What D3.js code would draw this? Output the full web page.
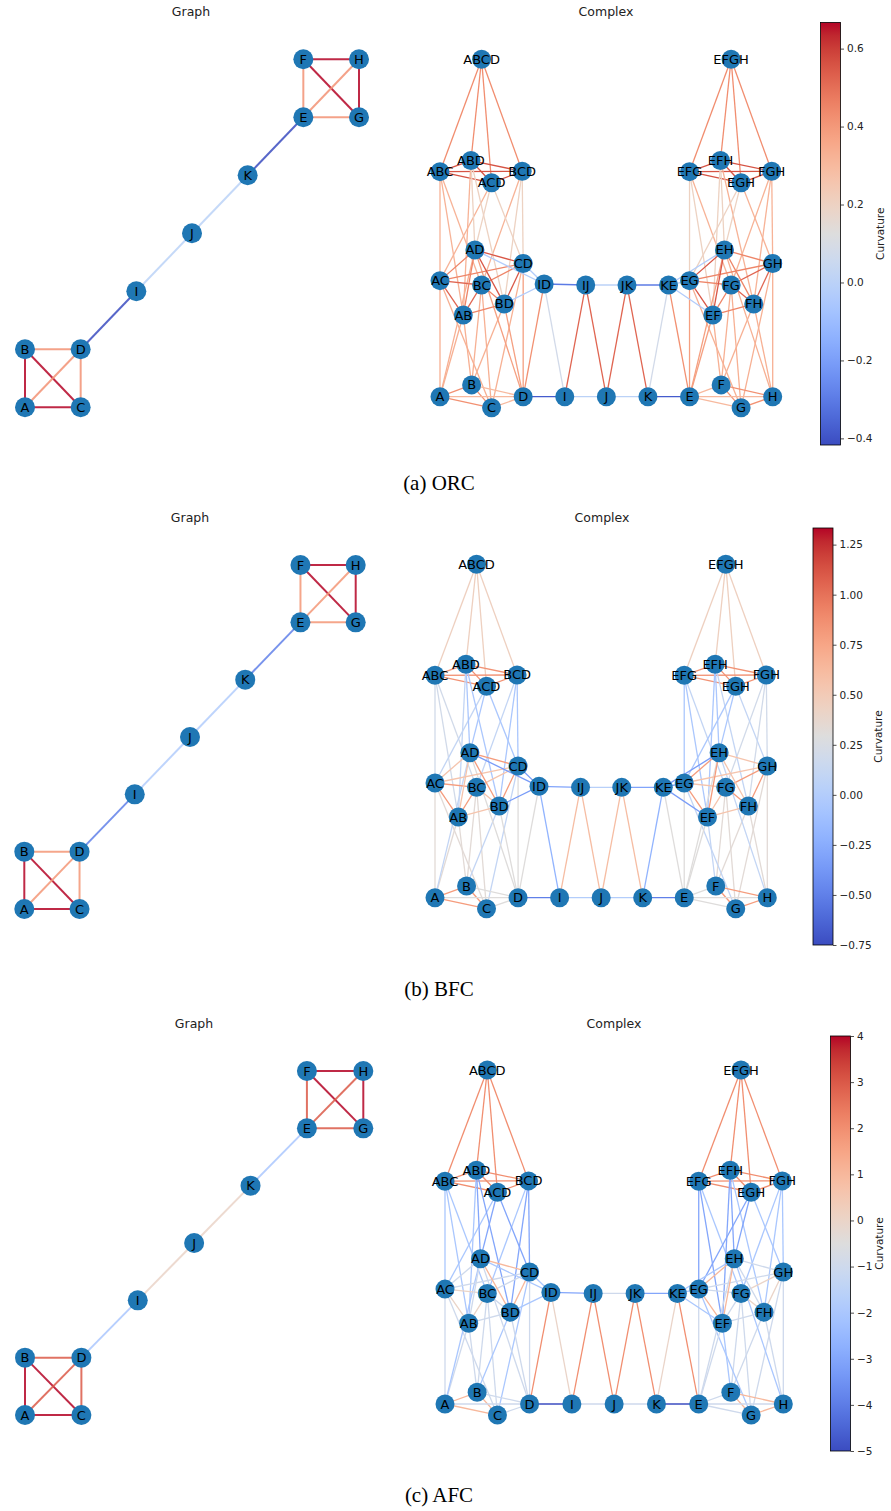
<!DOCTYPE html>
<html>
<head>
<meta charset="utf-8">
<script src="https://cdn.jsdelivr.net/npm/d3@7"></script>
<style>
  body { margin: 0; background: #fff; }
  svg { display: block; font-family: "DejaVu Sans", sans-serif; }
</style>
</head>
<body>
<svg id="fig" width="891" height="1511"></svg>
<script>
// ---------- data ----------
const captions = ["(a) ORC", "(b) BFC", "(c) AFC"];

// graph: nodes and layout (grid units)
const graphNodes = ["A", "B", "C", "D", "I", "J", "K", "E", "F", "G", "H"];
const graphPosX = [0, 0, 1, 1, 2, 3, 4, 5, 5, 6, 6];
const graphPosY = [0, 1, 0, 1, 2, 3, 4, 5, 6, 5, 6];

// graph edges, grouped by structural class
const graphGroups = [
  ["A-B", "A-C", "B-C", "F-G", "F-H", "G-H"],   // inside a clique
  ["A-D", "B-D", "C-D", "E-F", "E-G", "E-H"],   // clique edges at the hub
  ["D-I", "K-E"],                               // bridges
  ["I-J", "J-K"]                                // path
];
const orcGraph = [0.667, 0.417, -0.417, 0.0];
const bfcGraph = [1.333, 0.833, -0.5, 0.0];
const afcGraph = [4, 3, -2, 0];

// complex: cells and layout (layout units)
const complexNodes = ["A", "B", "C", "D", "I", "J", "K", "E", "F", "G", "H",
  "AB", "AC", "AD", "BC", "BD", "CD", "ID", "IJ", "JK", "KE", "EF", "EG", "EH", "FG", "FH", "GH",
  "ABC", "ABD", "ACD", "BCD", "EFG", "EFH", "EGH", "FGH", "ABCD", "EFGH"];
const complexPosX = [0, 9.5, 15.5, 25, 37.5, 50, 62.5, 75, 84.5, 90.5, 100,
  7, 0, 10.5, 12.5, 19.3, 25, 31.3, 43.8, 56.2, 68.7, 82, 75, 85.5, 87.5, 94.3, 100,
  0, 9.3, 15.5, 24.7, 75, 84.3, 90.5, 99.7, 12.5, 87.5];
const complexPosY = [0, 3.5, -3.3, 0, 0, 0, 0, 0, 3.5, -3.3, 0,
  24.2, 34.4, 43.5, 33.1, 27.5, 39.5, 33.4, 33.1, 33.1, 33.1, 24.2, 34.4, 43.5, 33.1, 27.5, 39.5,
  66.7, 70, 63.4, 66.8, 66.7, 70, 63.4, 66.8, 100, 100];

// complex edges, grouped by structural class
const complexGroups = [
  ["ABCD-ABC", "EFGH-FGH"],
  ["ABCD-ABD", "ABCD-ACD", "ABCD-BCD", "EFGH-EFG", "EFGH-EFH", "EFGH-EGH"],
  ["ABC-ABD", "ABC-ACD", "ABC-BCD", "FGH-EFG", "FGH-EFH", "FGH-EGH"],
  ["ABD-ACD", "ABD-BCD", "ACD-BCD", "EFG-EFH", "EFG-EGH", "EFH-EGH"],
  ["ABC-AB", "ABC-AC", "ABC-BC", "FGH-FG", "FGH-FH", "FGH-GH"],
  ["ABD-AB", "ACD-AC", "BCD-BC", "EFG-FG", "EFH-FH", "EGH-GH"],
  ["ABD-AD", "ABD-BD", "ACD-AD", "ACD-CD", "BCD-BD", "BCD-CD",
   "EFG-EF", "EFG-EG", "EFH-EF", "EFH-EH", "EGH-EG", "EGH-EH"],
  ["AB-A", "AB-B", "AC-A", "AC-C", "BC-B", "BC-C", "FG-F", "FG-G", "FH-F", "FH-H", "GH-G", "GH-H"],
  ["AD-A", "BD-B", "CD-C", "EF-F", "EG-G", "EH-H"],
  ["AD-D", "BD-D", "CD-D", "EF-E", "EG-E", "EH-E"],
  ["ID-D", "KE-E"],
  ["ID-I", "KE-K"],
  ["IJ-I", "IJ-J", "JK-J", "JK-K"],
  ["AB-AC", "AB-BC", "AC-BC", "FG-FH", "FG-GH", "FH-GH"],
  ["AB-AD", "AB-BD", "AC-AD", "AC-CD", "BC-BD", "BC-CD",
   "FG-EF", "FG-EG", "FH-EF", "FH-EH", "GH-EG", "GH-EH"],
  ["AD-BD", "AD-CD", "BD-CD", "EF-EG", "EF-EH", "EG-EH"],
  ["AD-ID", "BD-ID", "CD-ID", "EF-KE", "EG-KE", "EH-KE"],
  ["ID-IJ", "JK-KE"],
  ["IJ-JK"],
  ["A-B", "A-C", "B-C", "F-G", "F-H", "G-H"],
  ["A-D", "B-D", "C-D", "E-F", "E-G", "E-H"],
  ["D-I", "K-E"],
  ["I-J", "J-K"]
];
const orcComplex = [0.43, 0.43, 0.56, 0.56, 0.32, 0.32, 0.2, 0.33, 0.33, 0.38, 0.42, 0.08,
  0.52, 0.52, 0.45, 0.55, -0.03, -0.3, 0.0, 0.42, 0.3, -0.38, 0.0];
const bfcComplex = [0.45, 0.45, 0.85, 0.85, 0.2, 0.1, -0.05, 0.33, 0.1, 0.3, 0.3, -0.2,
  0.6, 0.8, 0.55, 0.8, -0.35, -0.3, 0.03, 0.8, 0.3, -0.5, 0.0];
const afcComplex = [2, 2, 2, 2, -2, -2, -3, -1, -2, -1, 2, 0,
  2, 0, -1, 1, -2, -3, -1, 1, -1, -5, -1];

const cbarDomains = [[-0.417, 0.667], [-0.75, 1.333], [-5, 4]];
const cbarTicks = [
  [-0.4, -0.2, 0, 0.2, 0.4, 0.6],
  [-0.75, -0.5, -0.25, 0, 0.25, 0.5, 0.75, 1, 1.25],
  [-5, -4, -3, -2, -1, 0, 1, 2, 3, 4]
];
const cbarFormats = [".1f", ".2f", "d"];

const graphValues = [orcGraph, bfcGraph, afcGraph];
const complexValues = [orcComplex, bfcComplex, afcComplex];

// ---------- layout (pixels) ----------
// cbTop / cbBottom: colorbar extent
const frames = [
  { gx: [25, 359], gy: [407.3, 59.3], cx: [440, 772.7], cy: [396.7, 59.3],
    titleY: 16, gTitleX: 191, cTitleX: 606, capY: 490, cbX: 820.5, cbTop: 22.5, cbBottom: 445, cbLab: 43 },
  { gx: [24.3, 355.7], gy: [909, 565], cx: [435, 767.3], cy: [897.7, 564.3],
    titleY: 522, gTitleX: 190, cTitleX: 602, capY: 996, cbX: 813, cbTop: 528, cbBottom: 945, cbLab: 49 },
  { gx: [25, 363.3], gy: [1415, 1071], cx: [445, 783.3], cy: [1404, 1070],
    titleY: 1028, gTitleX: 194, cTitleX: 614, capY: 1502, cbX: 830.5, cbTop: 1036, cbBottom: 1451, cbLab: 32 }
];

// matplotlib coolwarm
const coolwarm = d3.piecewise(d3.interpolateRgb, [
  "rgb(59,76,192)", "rgb(68,90,204)", "rgb(77,104,215)", "rgb(87,117,225)", "rgb(98,130,234)",
  "rgb(108,142,241)", "rgb(119,154,247)", "rgb(130,165,251)", "rgb(141,176,254)", "rgb(152,185,255)",
  "rgb(163,194,255)", "rgb(174,201,253)", "rgb(184,208,249)", "rgb(194,213,244)", "rgb(204,217,238)",
  "rgb(213,219,230)", "rgb(221,221,221)", "rgb(229,216,209)", "rgb(236,211,197)", "rgb(241,204,185)",
  "rgb(245,196,173)", "rgb(247,187,160)", "rgb(247,177,148)", "rgb(247,166,135)", "rgb(244,154,123)",
  "rgb(241,141,111)", "rgb(236,127,99)", "rgb(229,112,88)", "rgb(222,96,77)", "rgb(213,80,66)",
  "rgb(203,62,56)", "rgb(192,40,47)", "rgb(180,4,38)"
]);

const svg = d3.select("#fig");
svg.append("rect").attr("width", 891).attr("height", 1511).attr("fill", "#fff");
const defs = svg.append("defs");

function flatten(groups, values) {
  const out = [];
  groups.forEach((g, i) => g.forEach(e => {
    const [s, t] = e.split("-");
    out.push({ s, t, v: values[i] });
  }));
  return out;
}

frames.forEach((f, p) => {
  const [vmin, vmax] = cbarDomains[p];
  const norm = d3.scaleLinear().domain([vmin, vmax]).range([0, 1]).clamp(true);
  const color = v => coolwarm(norm(v));

  // ----- graph panel -----
  const gxs = d3.scaleLinear().domain([0, 6]).range(f.gx);
  const gys = d3.scaleLinear().domain([0, 6]).range(f.gy);
  const gpos = {};
  graphNodes.forEach((n, i) => gpos[n] = [gxs(graphPosX[i]), gys(graphPosY[i])]);

  const gG = svg.append("g").attr("class", "graph");
  gG.selectAll("line")
    .data(flatten(graphGroups, graphValues[p]))
    .join("line")
    .attr("x1", d => gpos[d.s][0]).attr("y1", d => gpos[d.s][1])
    .attr("x2", d => gpos[d.t][0]).attr("y2", d => gpos[d.t][1])
    .attr("stroke", d => color(d.v))
    .attr("stroke-width", 2)
    .attr("stroke-opacity", 0.85);
  gG.selectAll("circle")
    .data(graphNodes)
    .join("circle")
    .attr("cx", d => gpos[d][0]).attr("cy", d => gpos[d][1])
    .attr("r", 10).attr("fill", "#1f77b4");
  gG.selectAll("text")
    .data(graphNodes)
    .join("text")
    .attr("x", d => gpos[d][0]).attr("y", d => gpos[d][1])
    .attr("text-anchor", "middle").attr("dominant-baseline", "central")
    .attr("font-size", 13).attr("fill", "#000")
    .text(d => d);

  // ----- complex panel -----
  const cxs = d3.scaleLinear().domain([0, 100]).range(f.cx);
  const cys = d3.scaleLinear().domain([0, 100]).range(f.cy);
  const cpos = {};
  complexNodes.forEach((n, i) => cpos[n] = [cxs(complexPosX[i]), cys(complexPosY[i])]);

  const cG = svg.append("g").attr("class", "complex");
  cG.selectAll("line")
    .data(flatten(complexGroups, complexValues[p]))
    .join("line")
    .attr("x1", d => cpos[d.s][0]).attr("y1", d => cpos[d.s][1])
    .attr("x2", d => cpos[d.t][0]).attr("y2", d => cpos[d.t][1])
    .attr("stroke", d => color(d.v))
    .attr("stroke-width", 1.3);
  cG.selectAll("circle")
    .data(complexNodes)
    .join("circle")
    .attr("cx", d => cpos[d][0]).attr("cy", d => cpos[d][1])
    .attr("r", 9.5).attr("fill", "#1f77b4");
  cG.selectAll("text")
    .data(complexNodes)
    .join("text")
    .attr("x", d => cpos[d][0]).attr("y", d => cpos[d][1])
    .attr("text-anchor", "middle").attr("dominant-baseline", "central")
    .attr("font-size", 13).attr("fill", "#000")
    .text(d => d);

  // ----- titles & caption -----
  svg.append("text").attr("x", f.gTitleX).attr("y", f.titleY)
    .attr("text-anchor", "middle").attr("font-size", 12.5).attr("fill", "#222").text("Graph");
  svg.append("text").attr("x", f.cTitleX).attr("y", f.titleY)
    .attr("text-anchor", "middle").attr("font-size", 12.5).attr("fill", "#222").text("Complex");
  svg.append("text").attr("x", 439).attr("y", f.capY)
    .attr("text-anchor", "middle").attr("font-family", "'Liberation Serif', serif")
    .attr("font-size", 21).attr("fill", "#000").text(captions[p]);

  // ----- colorbar -----
  const gid = "cw" + p;
  const grad = defs.append("linearGradient").attr("id", gid)
    .attr("x1", 0).attr("y1", 1).attr("x2", 0).attr("y2", 0);
  d3.range(0, 1.0001, 1 / 32).forEach(t => {
    grad.append("stop").attr("offset", t).attr("stop-color", coolwarm(t));
  });
  const cbW = 20;
  const cbScale = d3.scaleLinear().domain([vmin, vmax]).range([f.cbBottom, f.cbTop]);
  svg.append("rect")
    .attr("x", f.cbX).attr("y", f.cbTop)
    .attr("width", cbW).attr("height", f.cbBottom - f.cbTop)
    .attr("fill", `url(#${gid})`)
    .attr("stroke", "#000").attr("stroke-width", 0.8);
  const ax = svg.append("g")
    .attr("transform", `translate(${f.cbX + cbW},0)`)
    .call(d3.axisRight(cbScale).tickValues(cbarTicks[p]).tickSize(3.5).tickPadding(3)
      .tickFormat(d3.format(cbarFormats[p])));
  ax.select(".domain").remove();
  ax.selectAll("text").attr("font-size", 10.5).attr("font-family", "'DejaVu Sans', sans-serif").attr("fill", "#222");
  ax.selectAll("line").attr("stroke", "#222").attr("stroke-width", 0.8);
  const midY = (f.cbTop + f.cbBottom) / 2;
  svg.append("text")
    .attr("transform", `translate(${f.cbX + cbW + f.cbLab},${midY}) rotate(-90)`)
    .attr("text-anchor", "middle").attr("font-size", 10.5).attr("fill", "#222")
    .text("Curvature");
});
</script>
</body>
</html>
